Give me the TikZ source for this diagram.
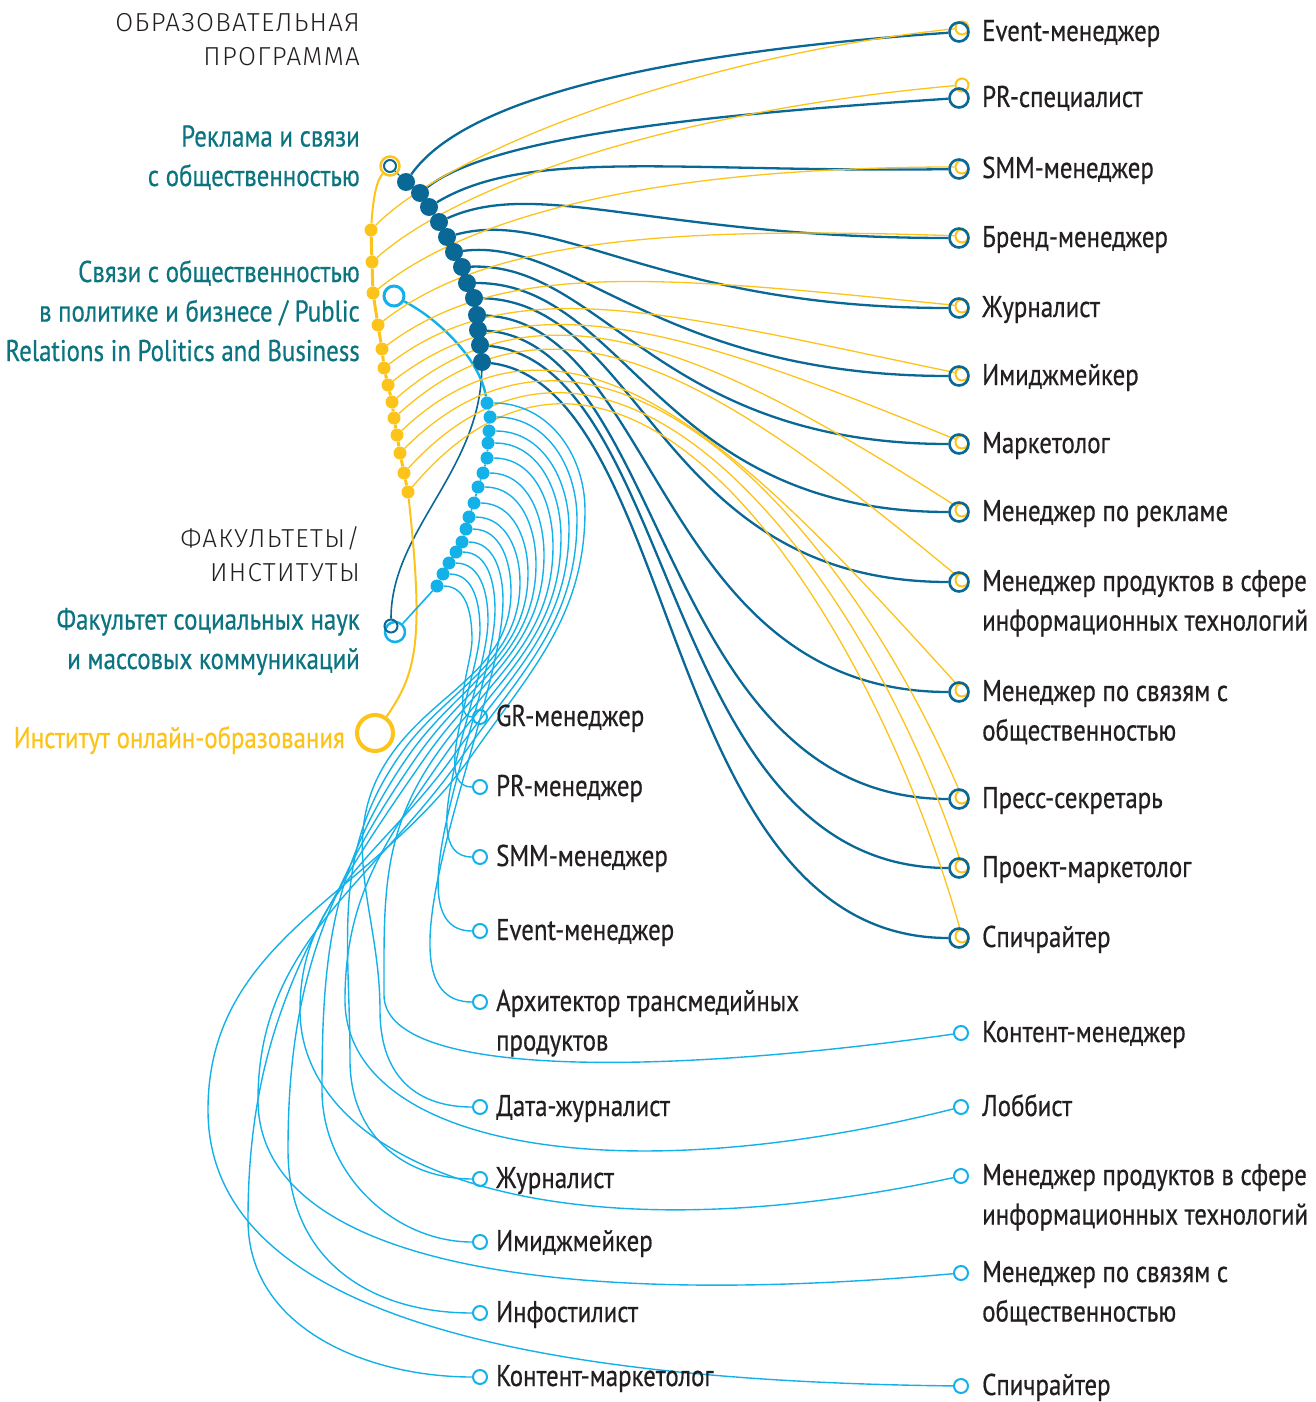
\documentclass[tikz,border=0pt]{standalone}
\usepackage{fontspec}
\setmainfont{PT Sans}[FakeStretch=0.83,FakeBold=0.5]
\newfontfamily\headfont{Fira Sans}[UprightFont=* Light,LetterSpace=5]
\usepackage{xcolor}
\usetikzlibrary{positioning,backgrounds}
\definecolor{rsodark}{HTML}{0A6896}
\definecolor{rsoyellow}{HTML}{FCC31A}
\definecolor{rsoblue}{HTML}{14B1E9}
\definecolor{rsoteal}{HTML}{0B7480}
\definecolor{rsotext}{HTML}{231F20}

\begin{document}
\begin{tikzpicture}[x=1pt,y=-1pt,
    head/.style={font=\headfont\fontsize{26}{34}\selectfont,text=rsotext,align=right,anchor=base east,inner sep=0},
    prog/.style={font=\fontsize{30}{39.5}\selectfont,text=rsoteal,align=right,anchor=base east,inner sep=0},
    job/.style={font=\fontsize{30}{39.5}\selectfont,text=rsotext,align=left,anchor=base west,inner sep=0},
    ddot/.style={circle,fill=rsodark,minimum size=18,inner sep=0},
    ydot/.style={circle,fill=rsoyellow,minimum size=13,inner sep=0},
    bdot/.style={circle,fill=rsoblue,minimum size=13,inner sep=0},
    ring/.style={circle,draw=#1,inner sep=0},
    dlink/.style={rsodark,line width=2.3},
    ylink/.style={rsoyellow,line width=1.3},
    blink/.style={rsoblue,line width=1.4}]
\useasboundingbox (0,0) rectangle (1315,1402);

% headings and programmes (node y = baseline of the last line)
\node[head] (hprog) at (360,66) {ОБРАЗОВАТЕЛЬНАЯ\\ПРОГРАММА};
\node[prog] (lrso) at (360,186) {Реклама и связи\\с общественностью};
\node[prog] (lpr) at (360,361) {Связи с общественностью\\в политике и бизнесе / Public\\Relations in Politics and Business};
\node[head] (hfac) at (360,581) {ФАКУЛЬТЕТЫ/\\ИНСТИТУТЫ};
\node[prog] (lfac) at (360,669) {Факультет социальных наук\\и массовых коммуникаций};
\node[prog,text=rsoyellow] (lonl) at (345,748) {Институт онлайн-образования};

\node[ring=rsoyellow,line width=2.5,minimum size=19] (p1y) at (390,166) {};
\node[ring=rsodark,line width=2,minimum size=12] (p1d) at (390,166) {};
\node[ring=rsoblue,line width=3,minimum size=20] (p2) at (394,296) {};
\node[ring=rsoblue,line width=2.5,minimum size=20] (fb) at (395,632) {};
\node[ring=rsodark,line width=2,minimum size=13] (fd) at (391,626) {};
\node[ring=rsoyellow,line width=4,minimum size=36] (onl) at (375,733) {};

% chains of dots
\foreach \n/\x/\y in {1/406/182,2/420/193,3/429/207,4/439/222,5/447/237,6/454/252,7/462/267,
    8/467/283,9/474/298,10/477/315,11/478/330,12/480/345,13/482/362}
  \node[ddot] (d\n) at (\x,\y) {};
\foreach \n/\x/\y in {1/371/230,2/372/262,3/373/293,4/378/325,5/382/349,6/384/368,7/388/385,
    8/392/402,9/394/418,10/397/435,11/400/453,12/404/473,13/408/492}
  \node[ydot] (y\n) at (\x,\y) {};
\foreach \n/\x/\y in {1/487/403,2/490/417,3/489/431,4/488/443,5/487/458,6/483/473,7/478/487,
    8/474/503,9/469/517,10/466/529,11/462/542,12/456/552,13/449/563,14/443/574,15/437/586}
  \node[bdot] (b\n) at (\x,\y) {};

% professions, right column
\foreach \n/\y/\yy/\b/\t in {1/32/28/41/Event-менеджер,2/98/85/107/PR-специалист,
    3/169/167/178/SMM-менеджер,4/238/236/247/Бренд-менеджер,5/308/306/317/Журналист,
    6/376/374/385/Имиджмейкер,7/444/442/453/Маркетолог,8/512/510/521/Менеджер по рекламе,
    9/582/580/630.5/{Менеджер продуктов в сфере\\информационных технологий},
    10/692/690/740.5/{Менеджер по связям с\\общественностью},11/799/797/808/Пресс-секретарь,
    12/868/866/877/Проект-маркетолог,13/938/936/947/Спичрайтер}{
  \node[ring=rsoyellow,line width=2,minimum size=13] (ry\n) at (962,\yy) {};
  \node[ring=rsodark,line width=2.6,minimum size=19] (rd\n) at (959,\y) {};
  \node[job] (rl\n) at (982,\b) {\t};
}

% professions, lower columns
\foreach \n/\x/\y/\tx/\b/\t in {1/480/717/496/726/GR-менеджер,2/480/787/496/796/PR-менеджер,
    3/480/857/496/866/SMM-менеджер,4/480/931/496/940/Event-менеджер,
    5/480/1002/496/1050.5/{Архитектор трансмедийных\\продуктов},6/480/1107/496/1116/Дата-журналист,
    7/480/1179/496/1188/Журналист,8/480/1242/496/1251/Имиджмейкер,9/480/1313/496/1322/Инфостилист,
    10/480/1377/496/1386/Контент-маркетолог,11/961/1033/982/1042/Контент-менеджер,
    12/961/1107/982/1116/Лоббист,
    13/961/1176/982/1224.5/{Менеджер продуктов в сфере\\информационных технологий},
    14/961/1273/982/1321.5/{Менеджер по связям с\\общественностью},15/961/1386/982/1395/Спичрайтер}{
  \node[ring=rsoblue,line width=2,minimum size=14] (m\n) at (\x,\y) {};
  \node[job] (ml\n) at (\tx,\b) {\t};
}

\begin{scope}[on background layer]
  % chains
  \draw[rsodark,line width=1.2] (p1d) -- (d1) -- (d2) -- (d3) -- (d4) -- (d5) -- (d6) -- (d7)
    -- (d8) -- (d9) -- (d10) -- (d11) -- (d12) -- (d13);
  \draw[rsodark,line width=1.6] (fd) .. controls +(0,-95) and +(-3,110) .. (d13);
  \draw[rsoyellow,line width=2] (p1y) .. controls +(-14,15) and +(2,-30) .. (y1);
  \draw[rsoyellow,line width=3] (y1) -- (y2) -- (y3) -- (y4) -- (y5) -- (y6) -- (y7) -- (y8)
    -- (y9) -- (y10) -- (y11) -- (y12) -- (y13);
  \draw[rsoyellow,line width=2] (y13) .. controls +(16,148) and +(42,-60) .. (onl);
  \draw[rsoblue,line width=2.4] (p2) .. controls +(46,24) and +(-7,-43) .. (b1);
  \draw[rsoblue,line width=1.6] (b1) -- (b2) -- (b3) -- (b4) -- (b5) -- (b6) -- (b7) -- (b8)
    -- (b9) -- (b10) -- (b11) -- (b12) -- (b13) -- (b14) -- (b15) -- (fb);

  % links to professions
  \foreach \n/\ax/\ay/\bx/\by in {1/64/-92/-259/18,2/71/-56/-259/17,3/100/-60/-280/4,
      4/100/-45/-300/0,5/110/-30/-300/0,6/120/-15/-300/0,7/140/-5/-300/0,8/160/0/-300/0,
      9/170/5/-300/0,10/180/10/-300/0,11/190/15/-300/0,12/200/20/-300/0,13/200/25/-300/0}
    \draw[dlink] (d\n) .. controls +(\ax,\ay) and +(\bx,\by) .. (rd\n);
  \foreach \n/\ax/\ay/\bx/\by in {1/79/-80/-262/27,2/90/-80/-280/25,3/100/-80/-300/0,
      4/110/-85/-300/-10,5/120/-90/-300/-30,6/130/-100/-290/-60,7/140/-110/-270/-110,
      8/150/-130/-250/-160,9/165/-150/-230/-190,10/180/-170/-200/-220,11/200/-200/-120/-280,
      12/210/-230/-100/-300,13/220/-260/-90/-320}
    \draw[ylink] (y\n) .. controls +(\ax,\ay) and +(\bx,\by) .. (ry\n);
  \foreach \k/\n/\xr/\yr/\xb/\xl/\yl/\ca/\cb/\cc in {1/15/585/510/472/208/1110/200/450/-5,
      2/14/577/519/463/258/1100/150/450/40,3/13/569/528/454/300/1010/150/420/90,
      4/12/561/537/445/345/1000/140/360/90,5/11/553/546/436/384/995/80/320/45,
      6/10/544/555/427/248/1220/110/110/0,7/9/536/564/418/288/1150/110/110/0,
      8/8/528/573/409/322/1090/85/85/0,9/7/520/582/400/350/1060/80/70/0,
      10/6/511/591/391/380/1010/70/60/0}
    \draw[blink] (b\k) to[out=0,in=90] (\xr,\yr) to[out=-90,in=55] (\xb,755)
      to[out=-125,in=90] (\xl,\yl) .. controls +(0,\ca) and +(-\cb,\cc) .. (m\n);
  \foreach \k/\n/\xr/\yr in {11/5/503/600,12/4/495/610,13/3/488/620,14/2/480/630,15/1/472/640}
    \draw[blink] (b\k) to[out=0,in=90] (\xr,\yr) to[out=-90,in=180,looseness=0.7] (m\n);
\end{scope}
\end{tikzpicture}
\end{document}
